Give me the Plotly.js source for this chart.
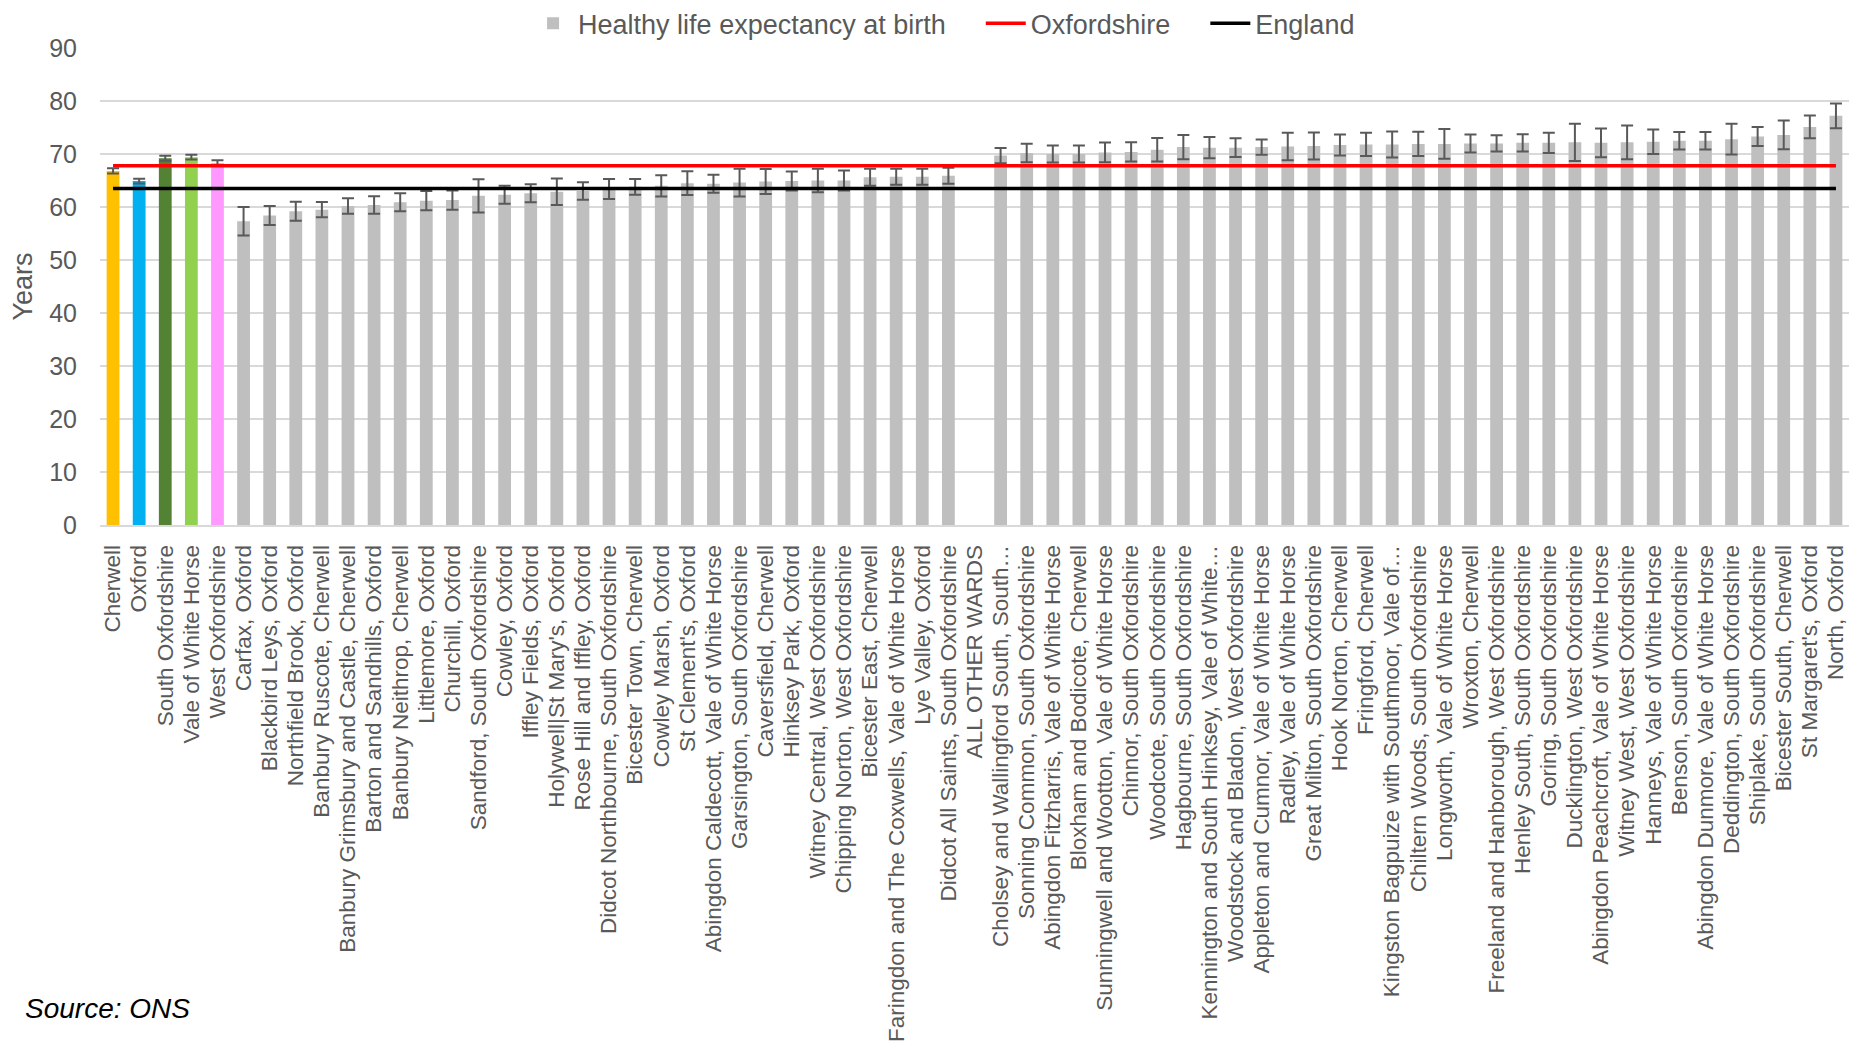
<!DOCTYPE html>
<html>
<head>
<meta charset="utf-8">
<script src="https://cdn.plot.ly/plotly-3.0.1.min.js"></script>
<style>
  html, body { margin: 0; padding: 0; background: #ffffff; }
  #chart { width: 1849px; height: 1051px; }
</style>
</head>
<body>
<div id="chart"></div>
<script>
// ---- Data ----
const districtNames = ["Cherwell", "Oxford", "South Oxfordshire", "Vale of White Horse", "West Oxfordshire"];
const districtValues = [66.8, 64.9, 69.2, 69.4, 68.3];
const districtErrors = [0.5, 0.45, 0.45, 0.45, 0.5];
const districtColors = ["#ffc000", "#00b0f0", "#548235", "#92d050", "#ff99ff"];

const wardNames = [
  "Carfax, Oxford", "Blackbird Leys, Oxford", "Northfield Brook, Oxford", "Banbury Ruscote, Cherwell",
  "Banbury Grimsbury and Castle, Cherwell", "Barton and Sandhills, Oxford", "Banbury Neithrop, Cherwell",
  "Littlemore, Oxford", "Churchill, Oxford", "Sandford, South Oxfordshire", "Cowley, Oxford",
  "Iffley Fields, Oxford", "Holywell|St Mary's, Oxford", "Rose Hill and Iffley, Oxford",
  "Didcot Northbourne, South Oxfordshire", "Bicester Town, Cherwell", "Cowley Marsh, Oxford",
  "St Clement's, Oxford", "Abingdon Caldecott, Vale of White Horse", "Garsington, South Oxfordshire",
  "Caversfield, Cherwell", "Hinksey Park, Oxford", "Witney Central, West Oxfordshire",
  "Chipping Norton, West Oxfordshire", "Bicester East, Cherwell",
  "Faringdon and The Coxwells, Vale of White Horse", "Lye Valley, Oxford",
  "Didcot All Saints, South Oxfordshire", "ALL OTHER WARDS",
  "Cholsey and Wallingford South, South…", "Sonning Common, South Oxfordshire",
  "Abingdon Fitzharris, Vale of White Horse", "Bloxham and Bodicote, Cherwell",
  "Sunningwell and Wootton, Vale of White Horse", "Chinnor, South Oxfordshire",
  "Woodcote, South Oxfordshire", "Hagbourne, South Oxfordshire",
  "Kennington and South Hinksey, Vale of White…", "Woodstock and Bladon, West Oxfordshire",
  "Appleton and Cumnor, Vale of White Horse", "Radley, Vale of White Horse",
  "Great Milton, South Oxfordshire", "Hook Norton, Cherwell", "Fringford, Cherwell",
  "Kingston Bagpuize with Southmoor, Vale of…", "Chiltern Woods, South Oxfordshire",
  "Longworth, Vale of White Horse", "Wroxton, Cherwell", "Freeland and Hanborough, West Oxfordshire",
  "Henley South, South Oxfordshire", "Goring, South Oxfordshire", "Ducklington, West Oxfordshire",
  "Abingdon Peachcroft, Vale of White Horse", "Witney West, West Oxfordshire",
  "Hanneys, Vale of White Horse", "Benson, South Oxfordshire", "Abingdon Dunmore, Vale of White Horse",
  "Deddington, South Oxfordshire", "Shiplake, South Oxfordshire", "Bicester South, Cherwell",
  "St Margaret's, Oxford", "North, Oxford"
];
const wardValues = [
  57.3, 58.4, 59.2, 59.5, 60.2, 60.4, 60.9, 61.2, 61.3, 62.1, 62.3, 62.6, 62.9, 63.0,
  63.4, 63.8, 64.0, 64.5, 64.4, 64.6, 64.8, 64.9, 65.0, 65.0, 65.6, 65.7, 65.7, 65.9, null,
  69.7, 70.2, 70.0, 70.0, 70.3, 70.4, 70.8, 71.3, 71.2, 71.2, 71.3, 71.4,
  71.5, 71.7, 71.8, 71.8, 71.9, 71.9, 72.0, 72.0, 72.1, 72.1, 72.2, 72.1, 72.2,
  72.3, 72.5, 72.5, 72.8, 73.3, 73.6, 75.1, 77.2
];
const wardErrors = [
  2.7, 1.8, 1.8, 1.45, 1.45, 1.65, 1.7, 1.8, 1.8, 3.15, 1.7, 1.7, 2.5, 1.65,
  1.9, 1.5, 2.0, 2.25, 1.7, 2.6, 2.35, 1.8, 2.2, 1.9, 1.6, 1.5, 1.5, 1.5, null,
  1.45, 1.75, 1.6, 1.6, 1.85, 1.8, 2.2, 2.3, 2.0, 1.75, 1.45, 2.6,
  2.55, 2.0, 2.2, 2.45, 2.3, 2.8, 1.7, 1.55, 1.65, 1.9, 3.5, 2.7, 3.2,
  2.3, 1.65, 1.65, 2.9, 1.8, 2.7, 2.15, 2.35
];
const wardColor = "#bfbfbf";

const oxfordshireValue = 67.8;
const englandValue = 63.5;

const categories = districtNames.concat(wardNames);

// ---- Traces ----
const textColor = "#595959";
const fontFamily = "Liberation Sans, Arial, sans-serif";
const legendPad = "\u00a0\u00a0\u00a0\u00a0";

const errStyle = { type: "data", visible: true, color: "#595959", thickness: 2, width: 6 };

const wardTrace = {
  type: "bar",
  name: "Healthy life expectancy at birth" + legendPad,
  x: wardNames,
  y: wardValues,
  marker: { color: wardColor },
  error_y: Object.assign({ array: wardErrors }, errStyle),
  showlegend: true
};

const districtTrace = {
  type: "bar",
  name: "Districts",
  x: districtNames,
  y: districtValues,
  marker: { color: districtColors },
  error_y: Object.assign({ array: districtErrors }, errStyle),
  showlegend: false
};

const oxfTrace = {
  type: "scatter",
  mode: "lines",
  name: "Oxfordshire" + legendPad,
  x: [categories[0], categories[categories.length - 1]],
  y: [oxfordshireValue, oxfordshireValue],
  line: { color: "#ff0000", width: 3.5 }
};

const engTrace = {
  type: "scatter",
  mode: "lines",
  name: "England",
  x: [categories[0], categories[categories.length - 1]],
  y: [englandValue, englandValue],
  line: { color: "#000000", width: 3.5 }
};

const layout = {
  width: 1849,
  height: 1051,
  margin: { l: 100, r: 0, t: 48, b: 526, pad: 0, autoexpand: false },
  paper_bgcolor: "#ffffff",
  plot_bgcolor: "#ffffff",
  font: { family: fontFamily, color: textColor },
  barmode: "overlay",
  bargap: 0.51,
  showlegend: true,
  legend: {
    orientation: "h",
    x: 0.4826,
    xanchor: "center",
    yref: "container",
    y: 0.9775,
    yanchor: "middle",
    font: { size: 27, color: textColor, family: fontFamily },
    traceorder: "normal",
    itemwidth: 40
  },
  xaxis: {
    type: "category",
    categoryorder: "array",
    categoryarray: categories,
    tickmode: "array",
    tickvals: categories,
    ticktext: categories,
    tickangle: -90,
    tickfont: { size: 22.5, color: textColor, family: fontFamily },
    showgrid: false,
    showline: true,
    linecolor: "#d9d9d9",
    linewidth: 2,
    ticks: "",
    ticklabelstandoff: 9,
    automargin: false,
    range: [-0.5, categories.length - 0.5],
    fixedrange: true
  },
  yaxis: {
    range: [0, 90],
    dtick: 10,
    tick0: 0,
    showgrid: true,
    gridcolor: "#d9d9d9",
    gridwidth: 2,
    zeroline: false,
    showline: false,
    ticks: "",
    ticklabelstandoff: 22,
    automargin: false,
    tickfont: { size: 25, color: textColor, family: fontFamily },
    title: { text: "Years", font: { size: 27, color: textColor, family: fontFamily }, standoff: 8 },
    fixedrange: true
  },
  annotations: [
    {
      text: "Source: ONS",
      xref: "paper", yref: "paper",
      x: -0.044, xanchor: "left",
      y: -1.0126, yanchor: "middle",
      showarrow: false,
      font: { size: 28, color: "#000000", family: fontFamily, style: "italic" }
    }
  ],
  hovermode: false
};

Plotly.newPlot("chart", [wardTrace, districtTrace, oxfTrace, engTrace], layout, { displayModeBar: false, staticPlot: true });
</script>
</body>
</html>
